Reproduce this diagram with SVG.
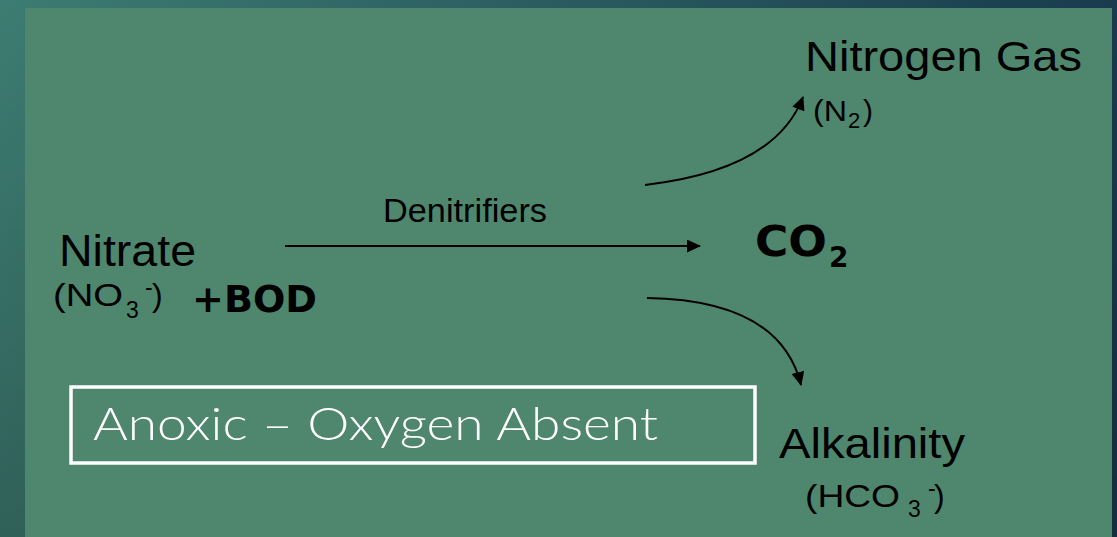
<svg xmlns="http://www.w3.org/2000/svg" width="1117" height="537" viewBox="0 0 1117 537">
  <defs>
    <linearGradient id="bgOuter" x1="0" y1="0" x2="1" y2="0">
      <stop offset="0" stop-color="#3D7C72"/>
      <stop offset="1" stop-color="#183B4D"/>
    </linearGradient>
    <linearGradient id="bgShade" x1="0" y1="0" x2="0" y2="1">
      <stop offset="0" stop-color="#000" stop-opacity="0"/>
      <stop offset="1" stop-color="#000" stop-opacity="0.22"/>
    </linearGradient>
    <marker id="arrow" markerUnits="userSpaceOnUse" markerWidth="14" markerHeight="13" refX="13" refY="6.5" orient="auto">
      <path d="M0,0 L14,6.5 L0,13 z" fill="#000"/>
    </marker>
    <style>
      .t { font-family: "Liberation Sans", Arial, sans-serif; fill: #000; }
      .b { font-family: "DejaVu Sans", "Liberation Sans", sans-serif; font-weight: bold; fill: #000; }
      .conn { fill: none; stroke: #000; stroke-width: 2; marker-end: url(#arrow); }
    </style>
  </defs>

  <rect x="0" y="0" width="1117" height="537" fill="url(#bgOuter)"/>
  <rect x="0" y="0" width="1117" height="537" fill="url(#bgShade)"/>
  <rect x="25" y="8" width="1087" height="529" fill="#4E876D"/>

  <g id="connectors">
    <path class="conn" d="M285,246 L700,246"/>
    <path class="conn" d="M645,185 Q775,170 803,97"/>
    <path class="conn" d="M647,298 Q780,300 801,385"/>
  </g>

  <g id="nitrate">
    <text class="t" x="59" y="266" font-size="44" textLength="137" lengthAdjust="spacingAndGlyphs">Nitrate</text>
    <text class="t" font-size="32"><tspan x="53" y="306" textLength="70" lengthAdjust="spacingAndGlyphs">(NO</tspan><tspan x="126" y="318" font-size="23">3</tspan><tspan x="145" y="295" font-size="23">-</tspan><tspan x="152" y="306">)</tspan></text>
  </g>

  <g id="bod">
    <text class="b" x="192" y="312" font-size="37" textLength="125" lengthAdjust="spacingAndGlyphs">+BOD</text>
  </g>

  <g id="denitrifiers-label">
    <text class="t" x="383" y="222" font-size="33" textLength="164" lengthAdjust="spacingAndGlyphs">Denitrifiers</text>
  </g>

  <g id="co2">
    <text class="b" font-size="42"><tspan x="755" y="256" textLength="72" lengthAdjust="spacingAndGlyphs">CO</tspan><tspan x="829" y="267" font-size="28">2</tspan></text>
  </g>

  <g id="nitrogen-gas">
    <text class="t" x="805" y="71" font-size="43" textLength="277" lengthAdjust="spacingAndGlyphs">Nitrogen Gas</text>
    <text class="t" font-size="30"><tspan x="813" y="121" textLength="34" lengthAdjust="spacingAndGlyphs">(N</tspan><tspan x="848" y="128" font-size="22">2</tspan><tspan x="863" y="121">)</tspan></text>
  </g>

  <g id="alkalinity">
    <text class="t" x="779" y="458" font-size="43" textLength="186" lengthAdjust="spacingAndGlyphs">Alkalinity</text>
    <text class="t" font-size="32"><tspan x="805" y="507" textLength="95" lengthAdjust="spacingAndGlyphs">(HCO</tspan><tspan x="908" y="517" font-size="23">3</tspan><tspan x="928" y="496" font-size="23">-</tspan><tspan x="934" y="507">)</tspan></text>
  </g>

  <g id="anoxic">
    <rect x="71" y="387" width="684" height="76" fill="none" stroke="#FFFFFF" stroke-width="3.5"/>
    <text x="93" y="440" font-family="Lato, 'Open Sans', sans-serif" font-weight="300" font-size="45" fill="#FFFFFF" textLength="565" lengthAdjust="spacingAndGlyphs">Anoxic – Oxygen Absent</text>
  </g>
</svg>
